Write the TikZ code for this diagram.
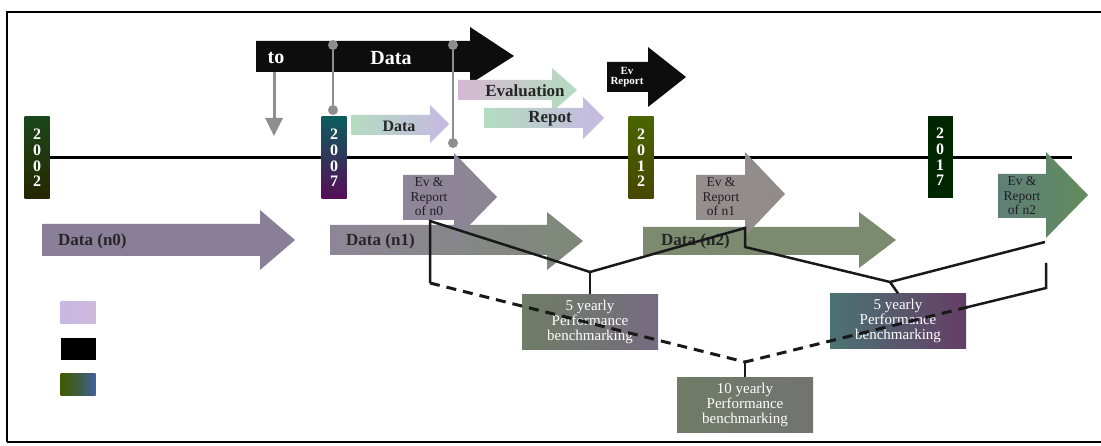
\documentclass[tikz,border=0pt]{standalone}
\usepackage{fontspec}
\setmainfont{Liberation Serif}
\usetikzlibrary{arrows.meta}
\newcommand\arrowpath[8]{(#1,#2) -- (#4,#2) -- (#4,#5) -- (#7,#8) -- (#4,#6) -- (#4,#3) -- (#1,#3) -- cycle}
\definecolor{conn}{HTML}{8E8E8E}
\definecolor{lgreen}{HTML}{B4DCC0}
\definecolor{llav}{HTML}{C6B8E2}
\definecolor{lpink}{HTML}{D6B8D2}
\definecolor{pgray}{HTML}{8A7F98}
\definecolor{ggray}{HTML}{7C8A70}
\definecolor{evgray}{HTML}{8E8698}
\definecolor{evtan}{HTML}{948E8C}
\definecolor{dtext}{HTML}{231D28}
\definecolor{evteal}{HTML}{5E7F78}
\definecolor{evpurp}{HTML}{7C6492}
\definecolor{evgreen}{HTML}{628C5C}
\begin{document}
\begin{tikzpicture}[x=1pt,y=-1pt,
  yearbox/.style={minimum width=25pt, minimum height=82pt, inner sep=0pt, text=white, align=center,
    font=\fontsize{16}{15.8}\selectfont\bfseries},
  dot/.style={circle, fill=conn, minimum size=10pt, inner sep=0pt},
  gconn/.style={draw=conn, line width=2.5pt},
  bigtext/.style={inner sep=0pt, font=\fontsize{20}{22}\selectfont\bfseries, text=white},
  midtext/.style={inner sep=0pt, font=\fontsize{17}{19}\selectfont\bfseries, text=black!85},
  evtext/.style={inner sep=0pt, align=center, font=\fontsize{13.5}{14.5}\selectfont, text=dtext},
  pbox/.style={minimum width=136pt, minimum height=55pt, inner sep=0pt, text=white, align=center,
    font=\fontsize{15}{15}\selectfont},
  legbox/.style={minimum width=35pt, minimum height=22pt, inner sep=0pt},
  bline/.style={draw=black!90, line width=2.5pt},
  dline/.style={draw=black!90, line width=3pt, dash pattern=on 10pt off 7pt},
]
\useasboundingbox (0,0) rectangle (1101,446);
\fill[white] (0,0) rectangle (1101,446);
% frame
\draw[line width=2.5pt] (7,442) -- (7,12) -- (1110,12);
\draw[line width=1.2pt] (7,442) -- (1110,442);

% timeline
\coordinate (tlstart) at (40,158);
\coordinate (tlend) at (1072,158);
\draw[line width=3pt] (tlstart) -- (tlend);

% year boxes
\node[yearbox, top color=black!80!green!90, bottom color=black!70!olive] (y2002) at (37,158) {2\\0\\0\\2};
\node[yearbox, top color=teal!70!black!90!gray, bottom color=violet!65!black!90!gray] (y2007) at (334,158) {2\\0\\0\\7};
\node[yearbox, top color=olive!65!black!90!green, bottom color=olive!55!black] (y2012) at (641,158) {2\\0\\1\\2};
\node[yearbox, fill=black!85!green] (y2017) at (940,157) {2\\0\\1\\7};

% big black arrow
\fill[black!95] \arrowpath{256}{41}{72}{470}{27}{84}{514}{56};
\node[bigtext] (tto) at (276,58) {to};
\node[bigtext] (tdata) at (391,58) {Data};

% gray down arrow
\coordinate (da1) at (274,72);
\coordinate (da2) at (274,136);
\draw[draw=conn, line width=3pt, -{Triangle[width=17pt,length=18pt]}] (da1) -- (da2);

% light arrows
\shade[left color=lgreen, right color=llav] \arrowpath{351}{115}{135}{430}{105}{143}{449}{124};
\node[midtext, font=\fontsize{16}{18}\selectfont\bfseries] (ldata) at (399,126) {Data};
\shade[left color=lpink, right color=lgreen] \arrowpath{458}{80}{100}{552}{68}{112}{577}{90};
\node[midtext] (leval) at (525,91) {Evaluation};
\shade[left color=lgreen, right color=llav] \arrowpath{484}{108}{128}{583}{97}{139}{604}{118};
\node[midtext] (lrep) at (550,119) {Repot};

% gray connectors with dots
\node[dot] (d1a) at (333,45) {};
\node[dot] (d1b) at (333,110) {};
\node[dot] (d2a) at (453,45) {};
\node[dot] (d2b) at (453,143) {};
\draw[gconn] (d1a) -- (d1b);
\draw[gconn] (d2a) -- (d2b);

% Ev Report black arrow
\fill[black!95] \arrowpath{607}{62}{92}{648}{47}{107}{686}{77};
\node[inner sep=0pt, align=center, text=white, font=\fontsize{11}{10.5}\selectfont\bfseries] (evrep) at (627,77) {Ev\\Report};

% Data arrows
\shade[left color=pgray, middle color=ggray, right color=pgray] \arrowpath{42}{224}{256}{260}{210}{270}{295}{240};
\node[midtext, anchor=west] (dn0) at (58,241) {Data (n0)};
\shade[left color=evgray, middle color=ggray, right color=ggray!80!pgray] \arrowpath{330}{225}{255}{547}{212}{270}{583}{241};
\node[midtext, anchor=west] (dn1) at (346,241) {Data (n1)};
\shade[left color=ggray, middle color=pgray, right color=ggray] \arrowpath{643}{227}{255}{859}{212}{268}{896}{240};
\node[midtext, anchor=west] (dn2) at (661,241) {Data (n2)};

% Ev & Report arrows
\shade[left color=evgray, right color=evgray!80!gray] \arrowpath{403}{175}{220}{454}{153}{241}{497}{197};
\node[evtext] (ev0) at (429,197) {Ev \&\\Report\\of n0};
\shade[left color=evtan, right color=evtan!85!gray] \arrowpath{696}{175}{220}{745}{152}{236}{785}{194};
\node[evtext] (ev1) at (721,197) {Ev \&\\Report\\of n1};
\shade[left color=evteal, middle color=evpurp, right color=evgreen] \arrowpath{998}{174}{218}{1046}{152}{238}{1088}{195};
\node[evtext] (ev2) at (1022,196) {Ev \&\\Report\\of n2};

% benchmarking boxes
\node[pbox, left color=ggray!90!black, right color=pgray!85!black] (fy1) at (590,322) {5 yearly\\Performance\\benchmarking};
\node[pbox, left color=teal!35!gray!90!black, right color=violet!40!gray!80!black] (fy2) at (898,321) {5 yearly\\Performance\\benchmarking};
\node[pbox, left color=ggray!90!black, right color=gray!90!black] (ty) at (745,405) {10 yearly\\Performance\\benchmarking};

% legend
\node[legbox, left color=llav, right color=llav!85!pink] (lg1) at (78,313) {};
\node[legbox, fill=black] (lg2) at (78,349) {};
\node[legbox, left color=olive!70!teal!70!black, right color=teal!50!blue!50!gray] (lg3) at (78,385) {};

% bracket connectors
\coordinate (b0t) at (430,221);
\coordinate (b0b) at (430,283);
\coordinate (j1) at (590,272);
\coordinate (p1t) at (745,228);
\coordinate (p1b) at (745,247);
\coordinate (j2) at (890,282);
\coordinate (p2) at (1045,242);
\coordinate (b2t) at (1046,263);
\coordinate (b2b) at (1046,288);
\coordinate (b2m) at (968,307);
\coordinate (j3) at (745,362);
\draw[bline] (b0b) -- (b0t) -- (j1) -- (p1t) -- (p1b) -- (j2) -- (p2);
\draw[bline] (j1) -- (fy1.north);
\draw[bline] (j2) -- (fy2.north);
\draw[bline] (b2t) -- (b2b) -- (b2m);
\draw[dline] (b0b) -- (j3);
\draw[dline] (b2m) -- (j3);
\draw[bline] (j3) -- (ty.north);
\end{tikzpicture}
\end{document}
